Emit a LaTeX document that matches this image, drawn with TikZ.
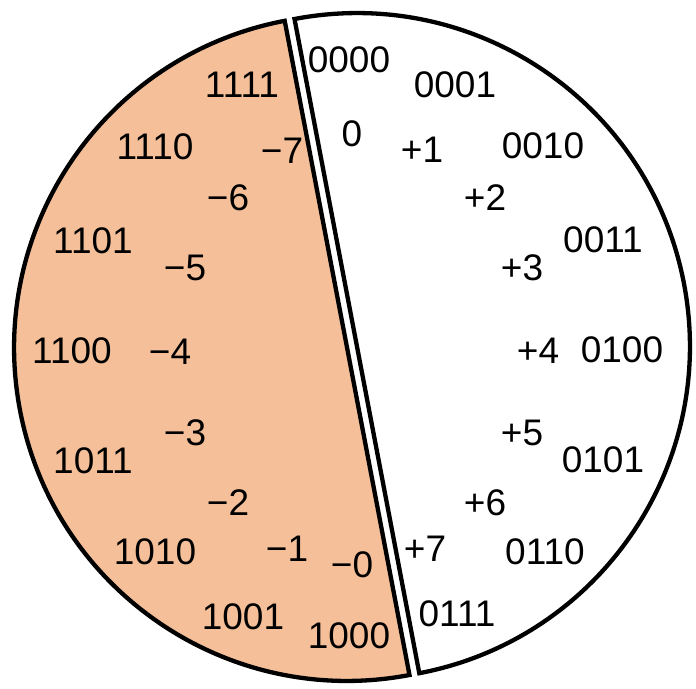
\documentclass[tikz,border=0pt]{standalone}
\usepackage{fontspec}
\setmainfont{Liberation Sans}
\usetikzlibrary{calc}
\definecolor{RingPeach}{RGB}{245,192,153}
\definecolor{RingInk}{RGB}{0,0,0}
\tikzset{
  ring/half/.style={
    draw=RingInk,
    line width=4.3pt,
    line join=miter
  },
  ring/code/.style={
    text=RingInk,
    inner sep=0pt,
    font=\fontsize{37}{42}\selectfont
  },
  ring/value/.style={
    text=RingInk,
    inner sep=0pt,
    font=\fontsize{37}{42}\selectfont
  }
}
\begin{document}
\begin{tikzpicture}[x=1pt,y=-1pt]
  \useasboundingbox (0,0) rectangle (696,688);
  % two halves of the circle, pulled apart along the dividing line
  \coordinate (lc) at (347.1,347.9);
  \coordinate (rc) at (356.9,346.1);
  \draw[ring/half,fill=RingPeach] (lc) ++(259.2:333) arc[start angle=259.2,end angle=79.2,radius=333] -- cycle;
  \draw[ring/half,fill=white] (rc) ++(-100.8:333) arc[start angle=-100.8,end angle=79.2,radius=333] -- cycle;
  % four-bit codes
  \foreach \t/\x/\y in {0000/349/60,0001/455/85,0010/543/146,0011/603/240,
                        0100/622/350,0101/603/460,0110/545/552,0111/457/614,
                        1000/349/636,1001/243/617,1010/155/552,1011/93/461,
                        1100/72/351,1101/93/241,1110/155/147,1111/242/85}
    \node[ring/code] (c\t) at (\x,\y) {\t};
  % values
  \foreach \t/\n/\x/\y in {0/p0/352/134,+1/p1/422/150,+2/p2/485/198,+3/p3/522/268,
                           +4/p4/538/351,+5/p5/522/433,+6/p6/485/503,+7/p7/425/549,
                           −0/m0/352/565,−1/m1/287/549,−2/m2/228/503,−3/m3/185/433,
                           −4/m4/170/352,−5/m5/185/268,−6/m6/228/198,−7/m7/282/151}
    \node[ring/value] (v\n) at (\x,\y) {\t};
\end{tikzpicture}
\end{document}
